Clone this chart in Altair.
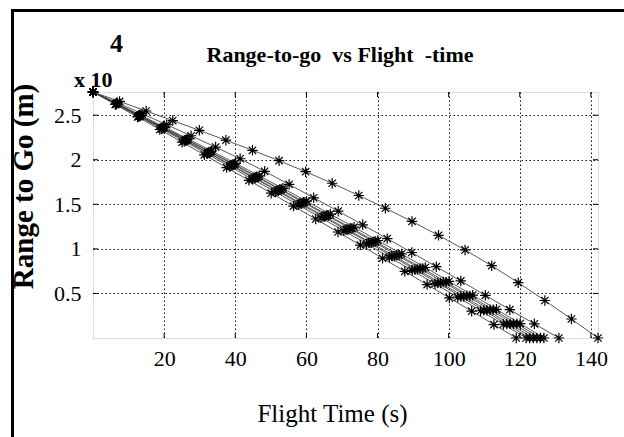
import altair as alt
import pandas as pd

# Final flight time (s) of each simulated run
run_end_time = [142.0, 131.0, 119.0, 121.8, 122.8, 123.8, 124.8, 125.8, 126.8]

# Range to go (m) at 20 equally spaced time samples of each run
range_to_go = [
    [27600, 26540, 25470, 24390, 23300, 22190, 21060, 19890, 18660, 17360,
     15990, 14560, 13080, 11520, 9880, 8110, 6210, 4210, 2130, 0],
    [27600, 26390, 25170, 23940, 22690, 21420, 20110, 18700, 17230, 15730,
     14230, 12700, 11150, 9590, 8000, 6400, 4790, 3180, 1590, 0],
    [27600, 26200, 24800, 23390, 21970, 20550, 19120, 17690, 16250, 14800,
     13350, 11890, 10430, 8950, 7480, 5990, 4500, 3010, 1510, 0],
    [27600, 26230, 24850, 23470, 22070, 20660, 19240, 17820, 16390, 14940,
     13490, 12030, 10560, 9070, 7590, 6090, 4580, 3060, 1540, 0],
    [27600, 26260, 24900, 23540, 22160, 20770, 19360, 17950, 16520, 15080,
     13620, 12160, 10680, 9190, 7690, 6180, 4650, 3110, 1560, 0],
    [27600, 26250, 24890, 23550, 22170, 20760, 19370, 17940, 16530, 15070,
     13630, 12150, 10690, 9180, 7700, 6170, 4660, 3100, 1570, 0],
    [27600, 26290, 24960, 23610, 22250, 20880, 19480, 18080, 16660, 15220,
     13760, 12300, 10810, 9310, 7800, 6270, 4730, 3170, 1590, 0],
    [27600, 26280, 24950, 23620, 22240, 20870, 19490, 18070, 16650, 15230,
     13750, 12290, 10820, 9300, 7810, 6260, 4720, 3160, 1600, 0],
    [27600, 26310, 25010, 23680, 22340, 20980, 19600, 18200, 16790, 15350,
     13900, 12430, 10940, 9430, 7910, 6360, 4800, 3220, 1620, 0],
]

x_ticks = [20, 40, 60, 80, 100, 120, 140]
y_ticks = [5000, 10000, 15000, 20000, 25000]

rows = []
for run, (t_end, ranges) in enumerate(zip(run_end_time, range_to_go)):
    n = len(ranges) - 1
    for k, r in enumerate(ranges):
        rows.append({"run": run, "time": round(k * t_end / n, 3), "range": r})
df = pd.DataFrame(rows)

W, H = 505, 246
SERIF = "Liberation Serif"
ASTERISK = "M0,-1L0,1M-1,0L1,0M-0.7,-0.7L0.7,0.7M-0.7,0.7L0.7,-0.7"

x_scale = alt.Scale(domain=[0, 142], nice=False, zero=False)
y_scale = alt.Scale(domain=[0, 27600], nice=False)

x_axis = alt.Axis(
    values=x_ticks, ticks=False, domain=False, labelPadding=10,
    labelFont=SERIF, labelFontSize=22, labelColor="black",
    grid=True, gridDash=[1.5, 2.5], gridColor="#111", gridOpacity=1, gridWidth=1,
    title="Flight Time (s)", titleFont=SERIF, titleFontSize=25,
    titleFontWeight="normal", titleColor="black",
    titleBaseline="alphabetic", titleAlign="center", titleX=239, titleY=83,
)
y_axis = alt.Axis(
    values=y_ticks, ticks=False, domain=False, labelPadding=12,
    labelExpr="datum.value / 10000",
    labelFont=SERIF, labelFontSize=22, labelColor="black",
    grid=True, gridDash=[1.5, 2.5], gridColor="#111", gridOpacity=1, gridWidth=1,
    title="Range to Go (m)", titleFont=SERIF, titleFontSize=29,
    titleFontWeight="bold", titleColor="black", titleAngle=270,
    titleBaseline="alphabetic", titleAlign="center", titleX=-61, titleY=94,
)

base = alt.Chart(df)
lines = base.mark_line(color="#444", strokeWidth=0.9).encode(
    x=alt.X("time:Q", scale=x_scale, axis=x_axis),
    y=alt.Y("range:Q", scale=y_scale, axis=y_axis),
    detail="run:N",
)
points = base.mark_point(
    shape=ASTERISK, size=110, filled=False, color="black", strokeWidth=1.2, opacity=1
).encode(x="time:Q", y="range:Q", detail="run:N")

# inward tick marks on all four sides of the box
xt = pd.DataFrame({"v": x_ticks})
yt = pd.DataFrame({"v": y_ticks})
tick_bottom = alt.Chart(xt).mark_rule(color="black", strokeWidth=1).encode(
    x=alt.X("v:Q", scale=x_scale), y=alt.value(H), y2=alt.value(H - 5))
tick_top = alt.Chart(xt).mark_rule(color="black", strokeWidth=1).encode(
    x=alt.X("v:Q", scale=x_scale), y=alt.value(0), y2=alt.value(5))
tick_left = alt.Chart(yt).mark_rule(color="black", strokeWidth=1).encode(
    y=alt.Y("v:Q", scale=y_scale), x=alt.value(0), x2=alt.value(5))
tick_right = alt.Chart(yt).mark_rule(color="black", strokeWidth=1).encode(
    y=alt.Y("v:Q", scale=y_scale), x=alt.value(W), x2=alt.value(W - 5))

# outer figure frame (left and top edges)
one = pd.DataFrame({"k": [0]})
frame_left = alt.Chart(one).mark_rule(color="black", strokeWidth=3).encode(
    x=alt.value(-80.5), y=alt.value(-82), y2=alt.value(H + 99))
frame_top = alt.Chart(one).mark_rule(color="black", strokeWidth=3).encode(
    y=alt.value(-81.5), x=alt.value(-82), x2=alt.value(W + 26))

# chart heading
heading = alt.Chart(one).mark_text(
    font=SERIF, fontSize=22, fontWeight="bold", align="center",
    baseline="alphabetic", color="black",
).encode(x=alt.value(247), y=alt.value(-30),
         text=alt.value("Range-to-go\u00a0 vs Flight\u00a0 -time"))

# axis multiplier
mult = alt.Chart(one).mark_text(
    font=SERIF, fontSize=22, fontWeight="bold", align="left",
    baseline="alphabetic", color="black",
).encode(x=alt.value(-19), y=alt.value(-5), text=alt.value("x 10"))
expo = alt.Chart(one).mark_text(
    font=SERIF, fontSize=26, fontWeight="bold", align="left",
    baseline="alphabetic", color="black",
).encode(x=alt.value(17), y=alt.value(-40), text=alt.value("4"))

chart = alt.layer(
    lines, points, tick_bottom, tick_top, tick_left, tick_right,
    frame_left, frame_top, heading, mult, expo,
).properties(
    width=W, height=H,
    autosize=alt.AutoSizeParams(type="none"),
    padding={"left": 93, "top": 92, "right": 26, "bottom": 99},
).configure_view(
    stroke="black", strokeWidth=1.2
).configure(background="white")

chart.save("out.html", embed_options={"renderer": "svg", "actions": False})
